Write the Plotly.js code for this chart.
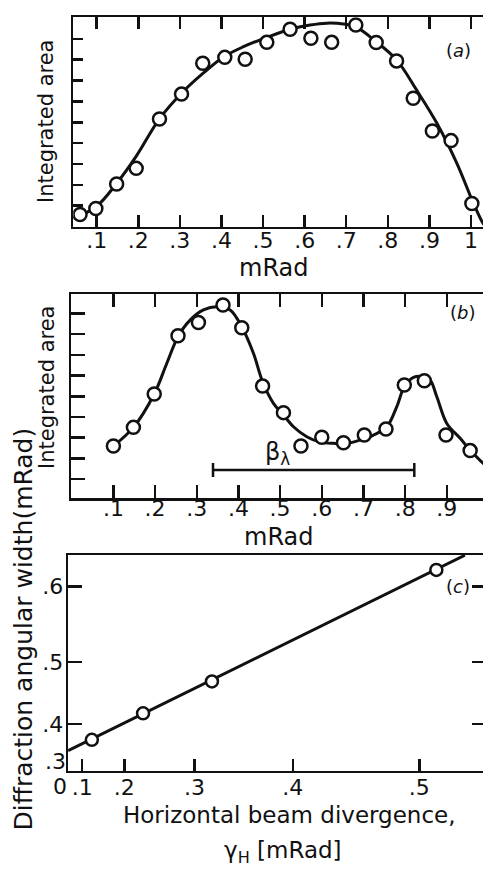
<!DOCTYPE html>
<html>
<head>
<meta charset="utf-8">
<script src="https://cdn.plot.ly/plotly-3.0.1.min.js"></script>
<style>
html,body{margin:0;padding:0;overflow:hidden;background:#fff;}
#chart{width:500px;height:875px;}
</style>
</head>
<body>
<div id="chart"></div>
<script>
// ---------- Panel (a) ----------
const aPointX = [0.060,0.098,0.148,0.195,0.251,0.304,0.355,0.408,0.457,0.509,0.565,0.615,0.665,0.723,0.772,0.821,0.861,0.907,0.952,1.002];
const aPointY = [0.58,0.87,2.04,2.79,5.16,6.35,7.83,8.11,8.02,8.83,9.46,9.03,8.83,9.66,8.82,7.94,6.15,4.58,4.12,1.11];
const aCurveX = [0.044,0.098,0.148,0.196,0.250,0.304,0.356,0.404,0.453,0.509,0.565,0.613,0.653,0.693,0.725,0.769,0.821,0.869,0.918,0.966,1.006,1.029,1.036];
const aCurveY = [0.41,0.94,2.07,3.40,5.14,6.39,7.35,8.12,8.62,9.07,9.46,9.66,9.75,9.71,9.55,8.91,7.99,6.55,4.95,3.03,1.11,0.15,0.0];
const aTickVals = [0.1,0.2,0.3,0.4,0.5,0.6,0.7,0.8,0.9,1.0];
const aTickText = [".1",".2",".3",".4",".5",".6",".7",".8",".9","1"];

// ---------- Panel (b) ----------
const bPointX = [0.100,0.148,0.198,0.255,0.304,0.363,0.408,0.458,0.508,0.550,0.600,0.652,0.702,0.754,0.798,0.846,0.898,0.956];
const bPointY = [2.60,3.50,5.11,7.92,8.56,9.40,8.30,5.49,4.21,2.60,3.02,2.76,3.13,3.42,5.54,5.75,3.13,2.38];
const bCurveX = [0.100,0.148,0.198,0.228,0.255,0.284,0.316,0.348,0.380,0.408,0.436,0.458,0.484,0.508,0.532,0.564,0.596,0.628,0.660,0.692,0.724,0.756,0.780,0.798,0.820,0.844,0.860,0.876,0.900,0.932,0.956,0.987,0.996];
const bCurveY = [2.60,3.50,5.11,6.58,7.87,8.67,9.16,9.32,9.16,8.35,7.07,5.70,4.66,4.10,3.53,3.05,2.79,2.73,2.73,2.89,3.13,3.53,4.50,5.46,5.91,5.94,5.78,4.98,3.69,2.97,2.41,1.77,1.62];
const bTickVals = [0.1,0.2,0.3,0.4,0.5,0.6,0.7,0.8,0.9];
const bTickText = [".1",".2",".3",".4",".5",".6",".7",".8",".9"];
const betaX = [0.339,0.822];
const betaY = [1.45,1.45];

// ---------- Panel (c) ----------  (axes are drawn on squared scales)
const cGamma = [0.130,0.231,0.320,0.512];
const cWidth = [0.370,0.419,0.471,0.620];
const cLineGamma = [0.0,0.5315];
const cLineWidth = [0.348,0.637];
const cXTicks = [0.1,0.2,0.3,0.4,0.5];
const cXTickText = [".1",".2",".3",".4",".5"];
const cYTicks = [0.4,0.5,0.6];
const cYTickText = [".4",".5",".6"];

const sq = v => v*v;
const W = 500, H = 875;
const px = x => x / W;
const py = y => 1 - y / H;
const INK = '#111';
const FONT = 'DejaVu Sans';

const markerA = {symbol:'circle', size:13, color:'#fff', line:{color:INK, width:2.5}};

const traces = [
  {x:aCurveX, y:aCurveY, mode:'lines', line:{color:INK, width:3, shape:'spline', smoothing:1}, xaxis:'x', yaxis:'y', hoverinfo:'skip'},
  {x:aPointX, y:aPointY, mode:'markers', marker:markerA, xaxis:'x', yaxis:'y'},
  {x:bCurveX, y:bCurveY, mode:'lines', line:{color:INK, width:3, shape:'spline', smoothing:1}, xaxis:'x2', yaxis:'y2', hoverinfo:'skip'},
  {x:bPointX, y:bPointY, mode:'markers', marker:markerA, xaxis:'x2', yaxis:'y2'},
  {x:betaX, y:betaY, mode:'lines+markers', line:{color:INK, width:2.5}, marker:{symbol:'line-ns', size:10, color:INK, line:{color:INK, width:2.5}}, xaxis:'x2', yaxis:'y2'},
  {x:cLineGamma.map(sq), y:cLineWidth.map(sq), mode:'lines', line:{color:INK, width:3}, xaxis:'x3', yaxis:'y3'},
  {x:cGamma.map(sq), y:cWidth.map(sq), mode:'markers', marker:{symbol:'circle', size:12, color:'#fff', line:{color:INK, width:2.5}}, xaxis:'x3', yaxis:'y3'}
];

const tickFont = {family:FONT, size:22, color:INK};
const baseAx = {showgrid:false, zeroline:false, showline:true, linecolor:INK, linewidth:2.5, ticks:'inside', tickcolor:INK, tickwidth:2.5, tickfont:tickFont, tickangle:0, fixedrange:true};

const xRight = 486;
const layout = {
  width:W, height:H, margin:{l:0,r:0,t:0,b:0}, showlegend:false,
  paper_bgcolor:'#fff', plot_bgcolor:'#fff',
  font:{family:FONT, color:INK},
  // panel a
  xaxis: Object.assign({}, baseAx, {domain:[px(73.3), px(xRight)], range:[0.0438,1.036], tickmode:'array', tickvals:aTickVals, ticktext:aTickText, ticklen:12, mirror:'ticks', anchor:'y', ticklabelstandoff:-8}),
  yaxis: Object.assign({}, baseAx, {domain:[py(226.8), py(17.3)], range:[-0.01,10.03], tickmode:'array', tickvals:[1,2,3,4,5,6,7,8,9], showticklabels:false, ticklen:10, mirror:true, anchor:'x'}),
  yaxis4: Object.assign({}, baseAx, {overlaying:'y', side:'right', anchor:'x', range:[-0.01,10.03], tickmode:'array', tickvals:[2,4,6,8], showticklabels:false, ticklen:9, showline:false}),
  // panel b
  xaxis2: Object.assign({}, baseAx, {domain:[px(71.3), px(xRight)], range:[-0.001,0.994], tickmode:'array', tickvals:bTickVals, ticktext:bTickText, ticklen:13, mirror:'ticks', anchor:'y2', ticklabelstandoff:-11}),
  yaxis2: Object.assign({}, baseAx, {domain:[py(498.3), py(294)], range:[0.08,9.93], tickmode:'array', tickvals:[1,2,3,4,5,6,7,8,9], showticklabels:false, ticklen:14, mirror:true, anchor:'x2'}),
  yaxis5: Object.assign({}, baseAx, {overlaying:'y2', side:'right', anchor:'x2', range:[0.08,9.93], tickmode:'array', tickvals:[2,4,6,8], showticklabels:false, ticklen:9, showline:false}),
  // panel c
  xaxis3: Object.assign({}, baseAx, {domain:[px(68.1), px(xRight)], range:[0,0.2975], tickmode:'array', tickvals:cXTicks.map(sq), ticktext:cXTickText, ticklen:12, mirror:true, anchor:'y3', ticklabelstandoff:-5}),
  xaxis4: Object.assign({}, baseAx, {overlaying:'x3', side:'top', anchor:'y3', range:[0,0.2975], tickmode:'array', tickvals:cXTicks.slice(1).map(sq), showticklabels:false, ticklen:12, showline:false}),
  yaxis3: Object.assign({}, baseAx, {domain:[py(770.7), py(555)], range:[0.0919,0.4061], tickmode:'array', tickvals:cYTicks.map(sq), ticktext:cYTickText, ticklen:14, mirror:'ticks', anchor:'x3', ticklabelstandoff:-2}),
  annotations: []
};

function ann(text, x, y, size, extra){
  layout.annotations.push(Object.assign({text:text, xref:'paper', yref:'paper', x:px(x), y:py(y), xanchor:'center', yanchor:'middle', showarrow:false, font:{family:FONT, size:size, color:INK}}, extra||{}));
}
ann('(<i>a</i>)', 458, 51, 18);
ann('(<i>b</i>)', 463, 312.5, 18);
ann('(<i>c</i>)', 457.5, 586.5, 18);
ann('Integrated area', 46, 122, 21, {textangle:-90});
ann('Integrated area', 47, 388, 21, {textangle:-90});
ann('Diffraction angular width(mRad)', 22.5, 629, 25, {textangle:-90});
ann('mRad', 273, 268, 24);
ann('mRad', 278, 537, 24);
ann('Horizontal beam divergence,', 289, 815, 23);
ann('γ<sub>H</sub> [mRad]', 283, 852, 23);
ann('β<sub>λ</sub>', 277, 453, 24);
ann('.3', 55, 761, 22);
ann('0', 60, 786.7, 22);

Plotly.newPlot('chart', traces, layout, {staticPlot:true, displayModeBar:false});
</script>
</body>
</html>
